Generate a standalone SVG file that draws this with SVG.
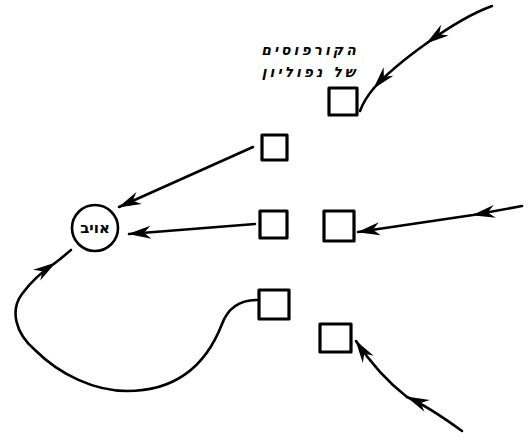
<svg xmlns="http://www.w3.org/2000/svg" width="532" height="437" viewBox="0 0 532 437">
<defs>
<marker id="ah" markerUnits="userSpaceOnUse" markerWidth="26" markerHeight="16" viewBox="-23 -8 25 16" refX="0" refY="0" orient="auto">
<path d="M1,0 L-22,-6.5 L-15,0 L-22,6.5 Z" fill="#000"/>
</marker>
</defs>
<style>
.box{fill:#fff;stroke:#000;stroke-width:3.2;stroke-linejoin:round}
.ln{fill:none;stroke:#000;stroke-width:2.6;stroke-linecap:round}
.lbl{font-family:"DejaVu Sans","Liberation Sans",sans-serif;font-style:italic;font-weight:bold;font-size:14px;fill:#000;text-anchor:middle}
</style>
<rect width="532" height="437" fill="#fff"/>
<g id="connectors">
<path class="ln" d="M492,6 C470,14 445,30 427,43" marker-end="url(#ah)"/>
<path class="ln" d="M427,43 C413,53 388,72 374,88" marker-end="url(#ah)"/>
<path class="ln" d="M374,88 C368,95 363,103 360,111"/>
<path class="ln" d="M253,147 L119,207" marker-end="url(#ah)"/>
<path class="ln" d="M255,224 L129,234" marker-end="url(#ah)"/>
<path class="ln" d="M522,206 L473,215 L358,232" marker-mid="url(#ah)" marker-end="url(#ah)"/>
<path class="ln" d="M257,300 C240,300 228,308 222,324 C210,355 185,391 127,391 C95,391 60,375 35,350 C15,333 10,310 22,294 C30,283 40,273 55,263" marker-end="url(#ah)"/>
<path class="ln" d="M55,263 C62,258 66,254 71,250"/>
<path class="ln" d="M462,431 C440,415 425,405 407,397" marker-end="url(#ah)"/>
<path class="ln" d="M407,397 C385,380 370,362 356,341" marker-end="url(#ah)"/>
</g>
<g id="enemy">
<circle cx="95" cy="228" r="23" fill="#fff" stroke="#000" stroke-width="2.6"/>
<text class="lbl" x="95" y="233" style="font-style:normal;font-size:15px">אויב</text>
</g>
<g id="label">
<text class="lbl" x="310" y="55" letter-spacing="3">הקורפוסים</text>
<text class="lbl" x="310" y="77" letter-spacing="3">של  נפוליון</text>
</g>
<g id="c1"><rect class="box" x="329" y="88" width="28" height="27"/></g>
<g id="c2"><rect class="box" x="262" y="135" width="25" height="25"/></g>
<g id="c3"><rect class="box" x="260" y="211" width="27" height="27"/></g>
<g id="c4"><rect class="box" x="324" y="211" width="30" height="30"/></g>
<g id="c5"><rect class="box" x="259" y="290" width="30" height="29"/></g>
<g id="c6"><rect class="box" x="320" y="324" width="31" height="28"/></g>
</svg>
